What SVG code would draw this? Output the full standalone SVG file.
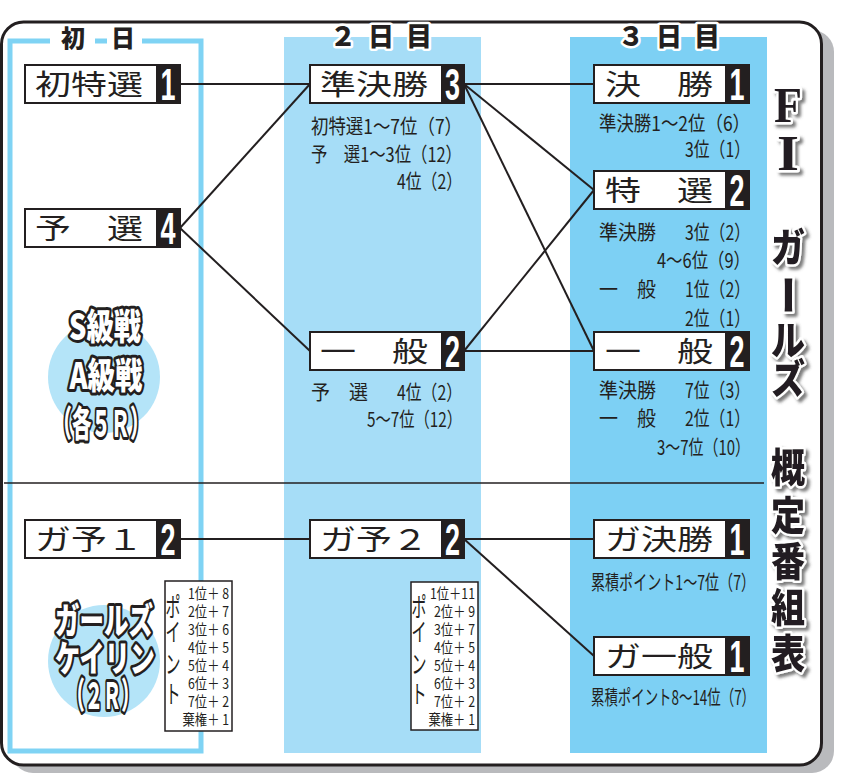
<svg xmlns="http://www.w3.org/2000/svg" width="852" height="773" viewBox="0 0 852 773">
<defs>
<style>
.t{font-family:"Noto Sans CJK JP","Noto Sans",sans-serif;fill:#231f20}
.lbl{font-size:28px}
.sm{font-size:20.5px}
.pt{font-size:15px}
.pv{font-size:25px}
.num{font-family:"Liberation Sans",Arial,sans-serif;font-weight:bold;font-size:44px;fill:#fff;text-anchor:middle}
.box{fill:#fff;stroke:#231f20;stroke-width:2}
.nb{fill:#231f20}
.cl{font-family:"Noto Sans CJK JP",sans-serif;font-weight:900;font-size:36px;fill:#fff;stroke:#231f20;stroke-width:6;stroke-linejoin:round;paint-order:stroke;text-anchor:middle}
.hd{font-family:"Noto Sans CJK JP",sans-serif;font-weight:900;font-size:26px;fill:#231f20;stroke:#fff;stroke-width:5;stroke-linejoin:round;paint-order:stroke}
.ti{font-family:"Noto Sans CJK JP",sans-serif;font-weight:900;font-size:40px;fill:#231f20;stroke:#fff;stroke-width:5;stroke-linejoin:round;paint-order:stroke;text-anchor:middle}
.tiL{font-family:"Liberation Serif",serif;font-weight:bold;font-size:50px;fill:#231f20;stroke:#fff;stroke-width:5;stroke-linejoin:round;paint-order:stroke;text-anchor:middle}
.ln{stroke:#231f20;stroke-width:2;fill:none}
.ptbox{fill:#fff;stroke:#231f20;stroke-width:1.5}
</style>
<filter id="sh" x="-40%" y="-40%" width="180%" height="180%">
<feDropShadow dx="3" dy="3" stdDeviation="1.5" flood-color="#444" flood-opacity="0.7"/>
</filter>
</defs>

<!-- frame -->
<rect x="11" y="30" width="823" height="743" rx="22" fill="#b9babd"/>
<rect x="1.5" y="22" width="820" height="743" rx="22" fill="#fff" stroke="#231f20" stroke-width="3"/>

<!-- columns -->
<rect x="10" y="41" width="191" height="710" fill="none" stroke="#7fd3f4" stroke-width="5"/>
<rect x="284" y="37" width="197" height="716" fill="#a6ddf7"/>
<rect x="570" y="37" width="197" height="716" fill="#7dd0f4"/>

<!-- circles -->
<circle cx="104" cy="377" r="56" fill="#b4e4f8"/>
<circle cx="104" cy="661" r="56" fill="#b4e4f8"/>

<!-- headers -->
<rect x="50" y="33" width="45" height="16" fill="#fff"/>
<rect x="107" y="33" width="35" height="16" fill="#fff"/>
<text class="t" x="73" y="47" text-anchor="middle" font-size="24" font-weight="900">初</text>
<text class="t" x="123" y="47" text-anchor="middle" font-size="24" font-weight="900">日</text>
<text class="hd" x="330" y="46" textLength="102" lengthAdjust="spacing">２日目</text>
<text class="hd" x="618" y="46" textLength="102" lengthAdjust="spacing">３日目</text>

<!-- divider -->
<line x1="4" y1="483" x2="764" y2="483" stroke="#231f20" stroke-width="1.5"/>

<!-- connectors -->
<g id="connectors" class="ln">
<line x1="180" y1="84" x2="310" y2="84"/>
<line x1="180" y1="228" x2="310" y2="84"/>
<line x1="180" y1="228" x2="310" y2="351"/>
<line x1="464" y1="84" x2="594" y2="84"/>
<line x1="464" y1="84" x2="594" y2="190"/>
<line x1="464" y1="84" x2="594" y2="351"/>
<line x1="464" y1="351" x2="594" y2="190"/>
<line x1="464" y1="351" x2="594" y2="351"/>
<line x1="180" y1="539" x2="310" y2="539"/>
<line x1="464" y1="539" x2="594" y2="539"/>
<line x1="464" y1="539" x2="594" y2="656"/>
</g>

<!-- day 1 nodes -->
<g id="n-shotokusen">
<rect class="box" x="25" y="65" width="155" height="38"/>
<rect class="nb" x="156" y="65" width="24" height="38"/>
<text class="t lbl" x="35" y="95" textLength="108" lengthAdjust="spacingAndGlyphs">初特選</text>
<text class="num" x="168" y="100" textLength="15" lengthAdjust="spacingAndGlyphs">1</text>
</g>
<g id="n-yosen">
<rect class="box" x="25" y="209" width="155" height="38"/>
<rect class="nb" x="156" y="209" width="24" height="38"/>
<text class="t lbl" x="35" y="239" textLength="108" lengthAdjust="spacingAndGlyphs">予　選</text>
<text class="num" x="168" y="244" textLength="15" lengthAdjust="spacingAndGlyphs">4</text>
</g>
<g id="n-gayo1">
<rect class="box" x="25" y="520" width="155" height="38"/>
<rect class="nb" x="156" y="520" width="24" height="38"/>
<text class="t lbl" x="35" y="550" textLength="108" lengthAdjust="spacingAndGlyphs">ガ予１</text>
<text class="num" x="168" y="555" textLength="15" lengthAdjust="spacingAndGlyphs">2</text>
</g>

<!-- day 2 nodes -->
<g id="n-junkessho">
<rect class="box" x="310" y="65" width="154" height="38"/>
<rect class="nb" x="441" y="65" width="23" height="38"/>
<text class="t lbl" x="320" y="95" textLength="108" lengthAdjust="spacingAndGlyphs">準決勝</text>
<text class="num" x="452.5" y="100" textLength="15" lengthAdjust="spacingAndGlyphs">3</text>
<text class="t sm" x="311" y="134" textLength="151" lengthAdjust="spacingAndGlyphs">初特選1～7位（7）</text>
<text class="t sm" x="311" y="162" textLength="151" lengthAdjust="spacingAndGlyphs">予　選1～3位（12）</text>
<text class="t sm" x="397" y="189" textLength="65" lengthAdjust="spacingAndGlyphs">4位（2）</text>
</g>
<g id="n-ippan2">
<rect class="box" x="310" y="332" width="154" height="38"/>
<rect class="nb" x="441" y="332" width="23" height="38"/>
<text class="t lbl" x="320" y="362" textLength="108" lengthAdjust="spacingAndGlyphs">一　般</text>
<text class="num" x="452.5" y="367" textLength="15" lengthAdjust="spacingAndGlyphs">2</text>
<text class="t sm" x="311" y="400" textLength="57" lengthAdjust="spacingAndGlyphs">予　選</text>
<text class="t sm" x="397" y="400" textLength="65" lengthAdjust="spacingAndGlyphs">4位（2）</text>
<text class="t sm" x="367" y="427" textLength="95" lengthAdjust="spacingAndGlyphs">5～7位（12）</text>
</g>
<g id="n-gayo2">
<rect class="box" x="310" y="520" width="154" height="38"/>
<rect class="nb" x="441" y="520" width="23" height="38"/>
<text class="t lbl" x="320" y="550" textLength="108" lengthAdjust="spacingAndGlyphs">ガ予２</text>
<text class="num" x="452.5" y="555" textLength="15" lengthAdjust="spacingAndGlyphs">2</text>
</g>

<!-- day 3 nodes -->
<g id="n-kessho">
<rect class="box" x="594" y="65" width="155" height="38"/>
<rect class="nb" x="725" y="65" width="24" height="38"/>
<text class="t lbl" x="605" y="95" textLength="108" lengthAdjust="spacingAndGlyphs">決　勝</text>
<text class="num" x="737" y="100" textLength="15" lengthAdjust="spacingAndGlyphs">1</text>
<text class="t sm" x="599" y="131" textLength="151" lengthAdjust="spacingAndGlyphs">準決勝1～2位（6）</text>
<text class="t sm" x="685" y="157" textLength="65" lengthAdjust="spacingAndGlyphs">3位（1）</text>
</g>
<g id="n-tokusen">
<rect class="box" x="594" y="171" width="155" height="38"/>
<rect class="nb" x="725" y="171" width="24" height="38"/>
<text class="t lbl" x="605" y="201" textLength="108" lengthAdjust="spacingAndGlyphs">特　選</text>
<text class="num" x="737" y="206" textLength="15" lengthAdjust="spacingAndGlyphs">2</text>
<text class="t sm" x="599" y="240" textLength="57" lengthAdjust="spacingAndGlyphs">準決勝</text>
<text class="t sm" x="685" y="240" textLength="65" lengthAdjust="spacingAndGlyphs">3位（2）</text>
<text class="t sm" x="657" y="268" textLength="93" lengthAdjust="spacingAndGlyphs">4～6位（9）</text>
<text class="t sm" x="599" y="297" textLength="57" lengthAdjust="spacingAndGlyphs">一　般</text>
<text class="t sm" x="685" y="297" textLength="65" lengthAdjust="spacingAndGlyphs">1位（2）</text>
<text class="t sm" x="685" y="326" textLength="65" lengthAdjust="spacingAndGlyphs">2位（1）</text>
</g>
<g id="n-ippan3">
<rect class="box" x="594" y="332" width="155" height="38"/>
<rect class="nb" x="725" y="332" width="24" height="38"/>
<text class="t lbl" x="605" y="362" textLength="108" lengthAdjust="spacingAndGlyphs">一　般</text>
<text class="num" x="737" y="367" textLength="15" lengthAdjust="spacingAndGlyphs">2</text>
<text class="t sm" x="599" y="398" textLength="57" lengthAdjust="spacingAndGlyphs">準決勝</text>
<text class="t sm" x="685" y="398" textLength="65" lengthAdjust="spacingAndGlyphs">7位（3）</text>
<text class="t sm" x="599" y="426" textLength="57" lengthAdjust="spacingAndGlyphs">一　般</text>
<text class="t sm" x="685" y="426" textLength="65" lengthAdjust="spacingAndGlyphs">2位（1）</text>
<text class="t sm" x="657" y="455" textLength="93" lengthAdjust="spacingAndGlyphs">3～7位（10）</text>
</g>
<g id="n-gakessho">
<rect class="box" x="594" y="520" width="155" height="38"/>
<rect class="nb" x="725" y="520" width="24" height="38"/>
<text class="t lbl" x="605" y="550" textLength="108" lengthAdjust="spacingAndGlyphs">ガ決勝</text>
<text class="num" x="737" y="555" textLength="15" lengthAdjust="spacingAndGlyphs">1</text>
<text class="t sm" x="591" y="590" textLength="164" lengthAdjust="spacingAndGlyphs">累積ポイント1～7位（7）</text>
</g>
<g id="n-gaippan">
<rect class="box" x="594" y="637" width="155" height="38"/>
<rect class="nb" x="725" y="637" width="24" height="38"/>
<text class="t lbl" x="605" y="667" textLength="108" lengthAdjust="spacingAndGlyphs">ガ一般</text>
<text class="num" x="737" y="672" textLength="15" lengthAdjust="spacingAndGlyphs">1</text>
<text class="t sm" x="591" y="705" textLength="164" lengthAdjust="spacingAndGlyphs">累積ポイント8～14位（7）</text>
</g>

<!-- circle labels -->
<g id="c-sa">
<text class="cl" x="105" y="340" textLength="72" lengthAdjust="spacingAndGlyphs">S級戦</text>
<text class="cl" x="106" y="389" textLength="73" lengthAdjust="spacingAndGlyphs">A級戦</text>
<text class="cl" x="101" y="437" textLength="97" lengthAdjust="spacingAndGlyphs">（各５Ｒ）</text>
</g>
<g id="c-girls">
<text class="cl" x="104" y="634" textLength="98" lengthAdjust="spacingAndGlyphs">ガールズ</text>
<text class="cl" x="105" y="672" textLength="100" lengthAdjust="spacingAndGlyphs">ケイリン</text>
<text class="cl" x="103" y="709" textLength="73" lengthAdjust="spacingAndGlyphs">（２Ｒ）</text>
</g>

<!-- point tables -->
<g id="pt1">
<rect class="ptbox" x="165" y="581" width="67" height="150"/>
<g transform="translate(173 0) scale(0.6 1) translate(-173 0)">
<text class="t pv" text-anchor="middle"><tspan x="173" y="616">ポ</tspan><tspan x="173" y="641">イ</tspan><tspan x="173" y="673">ン</tspan><tspan x="173" y="703">ト</tspan></text>
</g>
<g transform="translate(229 0) scale(0.82 1) translate(-229 0)">
<text class="t pt" text-anchor="end"><tspan x="229" y="599">1位＋ 8</tspan><tspan x="229" y="617">2位＋ 7</tspan><tspan x="229" y="635">3位＋ 6</tspan><tspan x="229" y="653">4位＋ 5</tspan><tspan x="229" y="671">5位＋ 4</tspan><tspan x="229" y="689">6位＋ 3</tspan><tspan x="229" y="707">7位＋ 2</tspan><tspan x="229" y="725">棄権＋ 1</tspan></text>
</g>
</g>
<g id="pt2">
<rect class="ptbox" x="411" y="582" width="67" height="148"/>
<g transform="translate(419 0) scale(0.6 1) translate(-419 0)">
<text class="t pv" text-anchor="middle"><tspan x="419" y="616">ポ</tspan><tspan x="419" y="641">イ</tspan><tspan x="419" y="673">ン</tspan><tspan x="419" y="703">ト</tspan></text>
</g>
<g transform="translate(475 0) scale(0.82 1) translate(-475 0)">
<text class="t pt" text-anchor="end"><tspan x="475" y="599">1位＋11</tspan><tspan x="475" y="617">2位＋ 9</tspan><tspan x="475" y="635">3位＋ 7</tspan><tspan x="475" y="653">4位＋ 5</tspan><tspan x="475" y="671">5位＋ 4</tspan><tspan x="475" y="689">6位＋ 3</tspan><tspan x="475" y="707">7位＋ 2</tspan><tspan x="475" y="725">棄権＋ 1</tspan></text>
</g>
</g>

<!-- vertical title -->
<g id="title" filter="url(#sh)">
<text class="tiL" x="788" y="122" textLength="28" lengthAdjust="spacingAndGlyphs">F</text>
<text class="tiL" x="788" y="170" textLength="22" lengthAdjust="spacingAndGlyphs">I</text>
<text class="ti" x="788" y="262" textLength="34" lengthAdjust="spacingAndGlyphs">ガ</text>
<text class="ti" x="788" y="310" transform="rotate(90 788 295)" textLength="40" lengthAdjust="spacingAndGlyphs">ー</text>
<text class="ti" x="788" y="355" textLength="34" lengthAdjust="spacingAndGlyphs">ル</text>
<text class="ti" x="788" y="393" textLength="34" lengthAdjust="spacingAndGlyphs">ズ</text>
<text class="ti" x="788" y="482" textLength="34" lengthAdjust="spacingAndGlyphs">概</text>
<text class="ti" x="788" y="530" textLength="34" lengthAdjust="spacingAndGlyphs">定</text>
<text class="ti" x="788" y="576" textLength="34" lengthAdjust="spacingAndGlyphs">番</text>
<text class="ti" x="788" y="622" textLength="34" lengthAdjust="spacingAndGlyphs">組</text>
<text class="ti" x="788" y="668" textLength="34" lengthAdjust="spacingAndGlyphs">表</text>
</g>
</svg>
